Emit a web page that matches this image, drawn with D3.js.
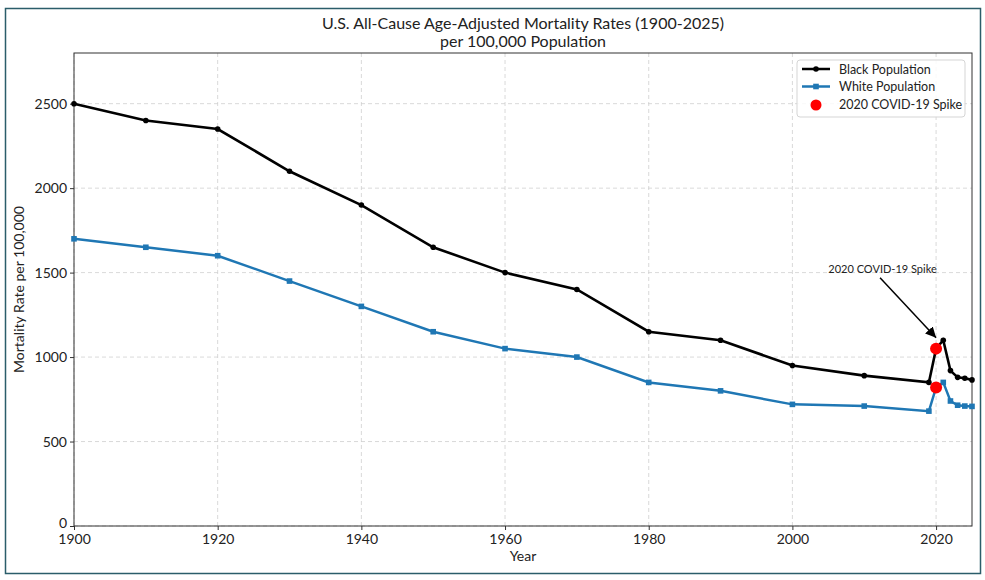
<!DOCTYPE html>
<html>
<head>
<meta charset="utf-8">
<script src="https://cdn.jsdelivr.net/npm/d3@7"></script>
<style>
  body { margin: 0; background: #fff; }
  svg text { font-family: Lato, "Open Sans", sans-serif; fill: #222; }
</style>
</head>
<body>
<div id="chart-area"></div>
<script>
// data
const years = [1900, 1910, 1920, 1930, 1940, 1950, 1960, 1970, 1980, 1990, 2000, 2010, 2019, 2020, 2021, 2022, 2023, 2024, 2025];
const blackRates = [2500, 2400, 2350, 2100, 1900, 1650, 1500, 1400, 1150, 1100, 950, 890, 850, 1050, 1100, 920, 880, 875, 865];
const whiteRates = [1700, 1650, 1600, 1450, 1300, 1150, 1050, 1000, 850, 800, 720, 710, 680, 820, 850, 740, 715, 710, 708];
const spikeYear = 2020;
const xTicks = [1900, 1920, 1940, 1960, 1980, 2000, 2020];
const yTicks = [0, 500, 1000, 1500, 2000, 2500];

const W = 985, H = 580;
const margin = { left: 74, right: 13, top: 53, bottom: 54 };
const width = W - margin.left - margin.right,
      height = H - margin.top - margin.bottom;

const svg = d3.select("#chart-area")
  .append("svg")
    .attr("width", W)
    .attr("height", H);

// outer frame round the picture
svg.append("rect")
  .attr("x", 5.5).attr("y", 8.5)
  .attr("width", 975).attr("height", 565)
  .attr("fill", "none")
  .attr("stroke", "#2b5d6a")
  .attr("stroke-width", 1.5);

const g = svg.append("g")
  .attr("transform", "translate(" + margin.left + "," + margin.top + ")");

const x = d3.scaleLinear().domain([1900, 2025]).range([0, width]);
const y = d3.scaleLinear().domain([0, 2800]).range([height, 0]);

// grid
g.append("g").selectAll("line").data(xTicks).enter().append("line")
  .attr("x1", d => x(d)).attr("x2", d => x(d))
  .attr("y1", 0).attr("y2", height)
  .attr("stroke", "#cfcfcf").attr("stroke-dasharray", "4,3").attr("stroke-width", 0.8);
g.append("g").selectAll("line").data(yTicks).enter().append("line")
  .attr("x1", 0).attr("x2", width)
  .attr("y1", d => y(d)).attr("y2", d => y(d))
  .attr("stroke", "#cfcfcf").attr("stroke-dasharray", "4,3").attr("stroke-width", 0.8);

// axes
const xAxis = g.append("g")
  .attr("transform", "translate(0," + height + ")")
  .call(d3.axisBottom(x).tickValues(xTicks).tickFormat(d3.format("d")).tickSize(4).tickPadding(4));
const yAxis = g.append("g")
  .call(d3.axisLeft(y).tickValues(yTicks).tickFormat(d3.format("d")).tickSize(4).tickPadding(3));
[xAxis, yAxis].forEach(a => {
  a.selectAll("text").style("font-size", "14px").attr("fill", "#222");
  a.selectAll("line").attr("stroke", "#333");
  a.select(".domain").remove();
});
// the 0 label sits a touch above its tick so it clears 1900
yAxis.selectAll(".tick text").filter(d => d === 0).attr("dy", "0.1em");

// frame (spines)
g.append("rect")
  .attr("width", width).attr("height", height)
  .attr("fill", "none").attr("stroke", "#333").attr("stroke-width", 1);

const blackData = years.map((d, i) => ({ year: d, value: blackRates[i] }));
const whiteData = years.map((d, i) => ({ year: d, value: whiteRates[i] }));

const line = d3.line().x(d => x(d.year)).y(d => y(d.value));

const plot = g.append("g");

plot.append("path").datum(whiteData)
  .attr("d", line).attr("fill", "none")
  .attr("stroke", "#1f77b4").attr("stroke-width", 2.5);
plot.selectAll(".wsq").data(whiteData).enter().append("rect")
  .attr("x", d => x(d.year) - 2.8).attr("y", d => y(d.value) - 2.8)
  .attr("width", 5.6).attr("height", 5.6)
  .attr("fill", "#1f77b4");

plot.append("path").datum(blackData)
  .attr("d", line).attr("fill", "none")
  .attr("stroke", "#000").attr("stroke-width", 2.6);
plot.selectAll(".bdot").data(blackData).enter().append("circle")
  .attr("cx", d => x(d.year)).attr("cy", d => y(d.value))
  .attr("r", 2.8).attr("fill", "#000");

// covid spike
const spikes = [blackData, whiteData].map(s => s.find(d => d.year === spikeYear));
plot.selectAll(".spike").data(spikes).enter().append("circle")
  .attr("cx", d => x(d.year)).attr("cy", d => y(d.value))
  .attr("r", 6).attr("fill", "#ff0000");

// annotation
svg.append("defs").append("marker")
  .attr("id", "arrow")
  .attr("viewBox", "0 0 10 10")
  .attr("refX", 10).attr("refY", 5)
  .attr("markerWidth", 7).attr("markerHeight", 7)
  .attr("orient", "auto")
  .append("path").attr("d", "M0,0 L10,5 L0,10 z").attr("fill", "#000");

g.append("text")
  .attr("x", x(2005)).attr("y", y(1500))
  .style("font-size", "11px")
  .text("2020 COVID-19 Spike");
g.append("line")
  .attr("x1", x(2012.2)).attr("y1", y(1470))
  .attr("x2", x(2020)).attr("y2", y(1115))
  .attr("stroke", "#000").attr("stroke-width", 1.5)
  .attr("marker-end", "url(#arrow)");

// title and labels
svg.append("text")
  .attr("x", margin.left + width / 2).attr("y", 29)
  .attr("text-anchor", "middle").style("font-size", "16px")
  .text("U.S. All-Cause Age-Adjusted Mortality Rates (1900-2025)");
svg.append("text")
  .attr("x", margin.left + width / 2).attr("y", 47)
  .attr("text-anchor", "middle").style("font-size", "16px")
  .text("per 100,000 Population");
svg.append("text")
  .attr("x", margin.left + width / 2).attr("y", 561)
  .attr("text-anchor", "middle").style("font-size", "14px")
  .text("Year");
svg.append("text")
  .attr("transform", "translate(24," + (margin.top + height / 2) + ") rotate(-90)")
  .attr("text-anchor", "middle").style("font-size", "14px")
  .text("Mortality Rate per 100,000");

// legend
const legendItems = [
  { label: "Black Population", kind: "circle", color: "#000" },
  { label: "White Population", kind: "square", color: "#1f77b4" },
  { label: "2020 COVID-19 Spike", kind: "dot", color: "#ff0000" }
];
const lg = g.append("g").attr("transform", "translate(" + (width - 175) + ",7)");
lg.append("rect")
  .attr("width", 168).attr("height", 57).attr("rx", 3)
  .attr("fill", "#fff").attr("fill-opacity", 0.85)
  .attr("stroke", "#d5d5d5");
const li = lg.selectAll(".li").data(legendItems).enter().append("g")
  .attr("transform", (d, i) => "translate(0," + (9 + i * 17.5) + ")");
li.filter(d => d.kind !== "dot").append("line")
  .attr("x1", 5).attr("x2", 33).attr("y1", 0).attr("y2", 0)
  .attr("stroke", d => d.color).attr("stroke-width", 2.5);
li.filter(d => d.kind === "circle").append("circle")
  .attr("cx", 19).attr("cy", 0).attr("r", 2.8).attr("fill", d => d.color);
li.filter(d => d.kind === "square").append("rect")
  .attr("x", 16.2).attr("y", -2.8).attr("width", 5.6).attr("height", 5.6).attr("fill", d => d.color);
li.filter(d => d.kind === "dot").append("circle")
  .attr("cx", 19).attr("cy", 1).attr("r", 5.5).attr("fill", d => d.color);
li.append("text")
  .attr("x", 42).attr("y", 4.5)
  .style("font-size", "12.5px")
  .text(d => d.label);
</script>
</body>
</html>
